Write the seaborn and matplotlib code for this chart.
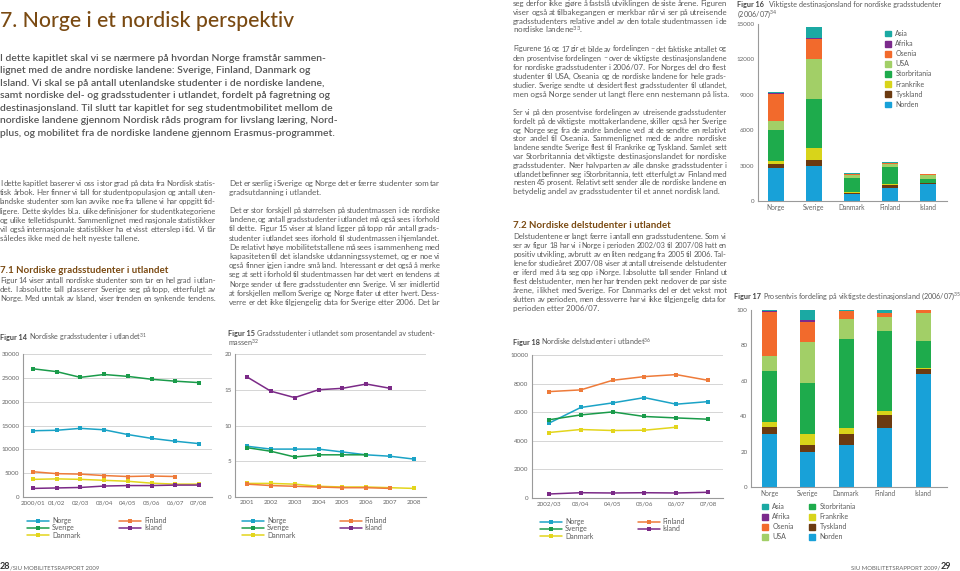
import numpy as np
import pandas as pd
import matplotlib
matplotlib.use("Agg")
import matplotlib.pyplot as plt
from matplotlib.lines import Line2D
from matplotlib.patches import Patch
import seaborn as sns

W, H = 960, 571

# ---------------- data ----------------
countries = ['Norge', 'Sverige', 'Danmark', 'Finland', 'Island']
line_colors = {'Norge': '#1ba3c6', 'Sverige': '#1a9b4a', 'Danmark': '#e3d51c',
               'Finland': '#ee7b3a', 'Island': '#7b2a87'}

# Figur 14 - gradsstudenter i utlandet (antall)
years14 = ['2000/01', '01/02', '02/03', '03/04', '04/05', '05/06', '06/07', '07/08']
f14_norge = [13900, 14000, 14400, 14100, 13100, 12300, 11700, 11200]
f14_sverige = [26900, 26300, 25100, 25700, 25300, 24700, 24300, 24000]
f14_danmark = [3700, 3800, 3700, 3500, 3300, 2900, 2700, 2700]
f14_finland = [5300, 4900, 4800, 4500, 4300, 4400, 4300, np.nan]
f14_island = [1800, 1900, 2000, 2300, 2400, 2400, 2500, 2500]

# Figur 15 - gradsstudenter som prosentandel av studentmassen
years15 = ['2001', '2002', '2003', '2004', '2005', '2006', '2007', '2008']
f15_norge = [7.1, 6.7, 6.7, 6.7, 6.3, 5.9, 5.7, 5.3]
f15_sverige = [6.9, 6.4, 5.6, 5.9, 5.9, 5.9, np.nan, np.nan]
f15_danmark = [1.9, 1.9, 1.8, 1.5, 1.4, 1.4, 1.3, 1.2]
f15_finland = [1.8, 1.6, 1.5, 1.4, 1.3, 1.3, 1.2, np.nan]
f15_island = [16.8, 14.8, 13.9, 15.0, 15.2, 15.8, 15.2, np.nan]

# Figur 18 - delstudenter i utlandet
years18 = ['2002/03', '03/04', '04/05', '05/06', '06/07', '07/08']
f18_norge = [5230, 6330, 6650, 7020, 6560, 6740]
f18_sverige = [5470, 5810, 6020, 5700, 5600, 5510]
f18_danmark = [4580, 4790, 4720, 4740, 4950, np.nan]
f18_finland = [7440, 7560, 8230, 8490, 8630, 8230]
f18_island = [280, 370, 350, 370, 350, 400]

# Figur 16 / 17 - destinasjonsland 2006/07
destinations = ['Asia', 'Afrika', 'Osenia', 'USA', 'Storbritania', 'Frankrike', 'Tyskland', 'Norden']
dest_colors = ['#1ba9a3', '#7b2a8c', '#f26a2c', '#a2cf67', '#1eab4c', '#d8d41a', '#6b3a10', '#18a1d8']

f16_norden = [2760, 2960, 560, 1100, 1450]
f16_tyskland = [370, 510, 150, 230, 60]
f16_frankrike = [250, 1010, 90, 90, 20]
f16_storbritania = [2650, 4180, 1150, 1490, 350]
f16_usa = [790, 3350, 270, 260, 350]
f16_osenia = [2250, 1750, 110, 80, 45]
f16_afrika = [60, 90, 0, 0, 0]
f16_asia = [120, 930, 20, 50, 0]

f17_norden = [30.0, 20.0, 23.9, 33.5, 63.9]
f17_tyskland = [3.9, 3.6, 6.2, 6.9, 2.6]
f17_frankrike = [3.0, 6.6, 3.5, 2.8, 0.8]
f17_storbritania = [28.4, 28.7, 49.9, 45.1, 15.4]
f17_usa = [8.9, 23.0, 11.6, 7.9, 15.4]
f17_osenia = [24.4, 11.6, 4.4, 2.3, 1.9]
f17_afrika = [0.7, 1.0, 0.0, 0.0, 0.0]
f17_asia = [0.7, 5.5, 0.5, 1.5, 0.0]

# ---------------- style ----------------
sns.set_style('white')
plt.rcParams['font.family'] = ['Lato', 'DejaVu Sans']
plt.rcParams['mathtext.fontset'] = 'custom'
plt.rcParams['mathtext.rm'] = 'Lato'
plt.rcParams['mathtext.default'] = 'rm'

BODY = '#5b5b5b'
BROWN = '#7a4a12'
TICK = '#666666'
GRID = '#cfcfcf'
TS = 4.5  # tick label size

fig = plt.figure(figsize=(W / 100, H / 100), dpi=100)
renderer = fig.canvas.get_renderer()


def box(left, top, right, bottom):
    return fig.add_axes([left / W, 1 - bottom / H, (right - left) / W, (bottom - top) / H])


def style_axes(ax, grid=True):
    for s in ['top', 'right']:
        ax.spines[s].set_visible(False)
    for s in ['left', 'bottom']:
        ax.spines[s].set_color('#9a9a9a')
        ax.spines[s].set_linewidth(0.8)
    ax.tick_params(axis='both', labelsize=TS, colors=TICK, length=0, pad=2.5)
    if grid:
        ax.yaxis.grid(True, color=GRID, linewidth=0.6)
        ax.set_axisbelow(True)
    ax.set_xlabel('')
    ax.set_ylabel('')


def line_chart(ax, labels, series, yticks, xlim, leg_anchor, colspace):
    df = pd.DataFrame(series, index=labels)
    df['pos'] = range(len(labels))
    long = df.melt(id_vars='pos', var_name='land', value_name='verdi').dropna()
    sns.lineplot(data=long, x='pos', y='verdi', hue='land', palette=line_colors,
                 marker='s', markersize=2.6, markeredgewidth=0, linewidth=1.1,
                 legend=False, ax=ax)
    style_axes(ax)
    ax.set_xticks(range(len(labels)), labels)
    ax.set_yticks(yticks)
    ax.set_ylim(yticks[0], yticks[-1])
    ax.set_xlim(*xlim)
    handles = [Line2D([], [], color=line_colors[c], marker='s', markersize=2.4,
                      markeredgewidth=0, linewidth=1.1) for c in countries]
    ax.legend(handles, countries, ncol=2, frameon=False, loc='upper left',
              bbox_to_anchor=leg_anchor, fontsize=5, handlelength=3.2, handletextpad=0.4,
              columnspacing=colspace, labelspacing=0.05, borderpad=0, borderaxespad=0,
              labelcolor=BODY)


def stacked_chart(ax, layers, yticks, xlim, width):
    df = pd.DataFrame(np.array(layers[::-1]).T, index=countries, columns=destinations[::-1])
    cum = df.cumsum(axis=1)
    for name, col in zip(destinations, dest_colors):
        sns.barplot(x=countries, y=cum[name].values, color=col, saturation=1,
                    width=width, linewidth=0, ax=ax)
    style_axes(ax, grid=False)
    ax.tick_params(axis='x', labelsize=4.8)
    ax.set_yticks(yticks)
    ax.set_ylim(yticks[0], yticks[-1])
    ax.set_xlim(*xlim)


# ---------------- charts ----------------
ax14 = box(23, 354, 212, 497)
line_chart(ax14, years14,
           {'Norge': f14_norge, 'Sverige': f14_sverige, 'Danmark': f14_danmark,
            'Finland': f14_finland, 'Island': f14_island},
           [0, 5000, 10000, 15000, 20000, 25000, 30000], (-0.42, 7.55),
           (4 / 189, -20 / 143), 5.6)

ax15 = box(235, 354, 426, 497)
line_chart(ax15, years15,
           {'Norge': f15_norge, 'Sverige': f15_sverige, 'Danmark': f15_danmark,
            'Finland': f15_finland, 'Island': f15_island},
           [0, 5, 10, 15, 20], (-0.5, 7.5),
           (7 / 191, -20 / 143), 6.4)

ax18 = box(532, 355, 723, 498)
line_chart(ax18, years18,
           {'Norge': f18_norge, 'Sverige': f18_sverige, 'Danmark': f18_danmark,
            'Finland': f18_finland, 'Island': f18_island},
           [0, 2000, 4000, 6000, 8000, 10000], (-0.53, 5.47),
           (8 / 191, -20 / 143), 6.4)

ax16 = box(758, 24, 947, 201)
stacked_chart(ax16, [f16_asia, f16_afrika, f16_osenia, f16_usa, f16_storbritania,
                     f16_frankrike, f16_tyskland, f16_norden],
              [0, 3000, 6000, 9000, 12000, 15000], (-0.47, 4.5), 0.42)
ax16.legend([Patch(color=c) for c in dest_colors], destinations, frameon=False,
            loc='upper left', bbox_to_anchor=((885 - 758) / 189, (24 - 30) / 177 + 1),
            fontsize=5, handlelength=0.9, handleheight=0.9, handletextpad=0.6,
            labelspacing=0.45, borderpad=0, borderaxespad=0, labelcolor=BODY)

ax17 = box(751, 310, 947, 487)
stacked_chart(ax17, [f17_asia, f17_afrika, f17_osenia, f17_usa, f17_storbritania,
                     f17_frankrike, f17_tyskland, f17_norden],
              [0, 20, 40, 60, 80, 100], (-0.47, 4.62), 0.39)
ax17.legend([Patch(color=c) for c in dest_colors], destinations, ncol=2, frameon=False,
            loc='upper left', bbox_to_anchor=((762 - 751) / 196, -(503 - 487) / 177),
            fontsize=5, handlelength=0.9, handleheight=0.9, handletextpad=0.6,
            labelspacing=0.45, columnspacing=2.2, borderpad=0, borderaxespad=0,
            labelcolor=BODY)


# ---------------- text ----------------
BS = 5.8  # body size


def put(x, y, s, size=BS, color=BODY, weight='normal', ha='left'):
    return fig.text(x / W, 1 - y / H, s, fontsize=size, color=color,
                    fontweight=weight, ha=ha, va='baseline')


def wpx(t):
    return t.get_window_extent(renderer).width


def paragraph(x, y, lines, width, dy=9.0, size=BS, justify_last=False):
    for i, line in enumerate(lines):
        yy = y + i * dy
        if i == len(lines) - 1 and not justify_last:
            put(x, yy, line, size)
            continue
        words = line.split(' ')
        s = size
        while True:
            texts = [put(x, yy, w, s) for w in words]
            widths = [wpx(t) for t in texts]
            gap = (width - sum(widths)) / max(len(words) - 1, 1)
            if gap >= 1.0 or s < 4:
                break
            for t in texts:
                t.remove()
            s *= 0.97
        cx = x
        for t, w in zip(texts, widths):
            t.set_x(cx / W)
            cx += w + gap


def caption(x, y, bold, rest, size=5.2, gap=1.6):
    t = put(x, y, bold, size, '#454545', 'bold')
    put(x + wpx(t) + gap, y, rest, size, BODY)


put(0, 27, '7. Norge i et nordisk perspektiv', 15.2, BROWN, 'medium')

intro = ['I dette kapitlet skal vi se nærmere på hvordan Norge framstår sammen-',
         'lignet med de andre nordiske landene: Sverige, Finland, Danmark og',
         'Island. Vi skal se på antall utenlandske studenter i de nordiske landene,',
         'samt nordiske del- og gradsstudenter i utlandet, fordelt på fagretning og',
         'destinasjonsland. Til slutt tar kapitlet for seg studentmobilitet mellom de',
         'nordiske landene gjennom Nordisk råds program for livslang læring, Nord-',
         'plus, og mobilitet fra de nordiske landene gjennom Erasmus-programmet.']
for i, line in enumerate(intro):
    put(0, 61 + i * 12.45, line, 7.45, '#555555', 'semibold')

paragraph(0, 186, ['I dette kapitlet baserer vi oss i stor grad på data fra Nordisk statis-',
                   'tisk årbok. Her finner vi tall for studentpopulasjon og antall uten-',
                   'landske studenter som kan avvike noe fra tallene vi har oppgitt tid-',
                   'ligere. Dette skyldes bl.a. ulike definisjoner for studentkategoriene',
                   'og ulike telletidspunkt. Sammenlignet med nasjonale statistikker',
                   'vil også internasjonale statistikker ha et visst etterslep i tid. Vi får',
                   'således ikke med de helt nyeste tallene.'], 216, dy=9.2)

put(0, 273, '7.1 Nordiske gradsstudenter i utlandet', 7.0, BROWN, 'bold')
paragraph(0, 283, ['Figur 14 viser antall nordiske studenter som tar en hel grad i utlan-',
                   'det. I absolutte tall plasserer Sverige seg på topp, etterfulgt av',
                   'Norge. Med unntak av Island, viser trenden en synkende tendens.'],
          216, dy=9.2, justify_last=True)

paragraph(229, 186, ['Det er særlig i Sverige og Norge det er færre studenter som tar',
                     'gradsutdanning i utlandet.'], 211, dy=9.2)
paragraph(229, 213, ['Det er stor forskjell på størrelsen på studentmassen i de nordiske',
                     'landene, og antall gradsstudenter i utlandet må også sees i forhold',
                     'til dette. Figur 15 viser at Island ligger på topp når antall grads-',
                     'studenter i utlandet sees i forhold til studentmassen i hjemlandet.',
                     'De relativt høye mobilitetstallene må sees i sammenheng med',
                     'kapasiteten til det islandske utdanningssystemet, og er noe vi',
                     'også finner igjen i andre små land. Interessant er det også å merke',
                     'seg at sett i forhold til studentmassen har det vært en tendens at',
                     'Norge sender ut flere gradsstudenter enn Sverige. Vi ser imidlertid',
                     'at forskjellen mellom Sverige og Norge flater ut etter hvert. Dess-',
                     'verre er det ikke tilgjengelig data for Sverige etter 2006. Det lar'],
          211, dy=9.2, justify_last=True)

paragraph(513, 6, ['seg derfor ikke gjøre å fastslå utviklingen de siste årene. Figuren',
                   'viser også at tilbakegangen er merkbar når vi ser på utreisende',
                   'gradsstudenters relative andel av den totale studentmassen i de',
                   'nordiske landene$^{33}$.'], 214, dy=9.0)
paragraph(513, 51.5, ['Figurene 16 og 17 gir et bilde av fordelingen – det faktiske antallet og',
                      'den prosentvise fordelingen – over de viktigste destinasjonslandene',
                      'for nordiske gradsstudenter i 2006/07. For Norges del dro flest',
                      'studenter til USA, Oseania og de nordiske landene for hele grads-',
                      'studier. Sverige sendte ut desidert flest gradsstudenter til utlandet,',
                      'men også Norge sender ut langt flere enn nestemann på lista.'], 214, dy=9.1)
paragraph(513, 115, ['Ser vi på den prosentvise fordelingen av utreisende gradsstudenter',
                     'fordelt på de viktigste mottakerlandene, skiller også her Sverige',
                     'og Norge seg fra de andre landene ved at de sendte en relativt',
                     'stor andel til Oseania. Sammenlignet med de andre nordiske',
                     'landene sendte Sverige flest til Frankrike og Tyskland. Samlet sett',
                     'var Storbritannia det viktigste destinasjonslandet for nordiske',
                     'gradsstudenter. Nær halvparten av alle danske gradsstudenter i',
                     'utlandet befinner seg i Storbritannia, tett etterfulgt av Finland med',
                     'nesten 45 prosent. Relativt sett sender alle de nordiske landene en',
                     'betydelig andel av gradsstudenter til et annet nordisk land.'], 214, dy=8.8)

put(513, 228, '7.2 Nordiske delstudenter i utlandet', 7.0, BROWN, 'bold')
paragraph(513, 239, ['Delstudentene er langt færre i antall enn gradsstudentene. Som vi',
                     'ser av figur 18 har vi i Norge i perioden 2002/03 til 2007/08 hatt en',
                     'positiv utvikling, avbrutt av en liten nedgang fra 2005 til 2006. Tal-',
                     'lene for studieåret 2007/08 viser at antall utreisende delstudenter',
                     'er i ferd med å ta seg opp i Norge. I absolutte tall sender Finland ut',
                     'flest delstudenter, men her har trenden pekt nedover de par siste',
                     'årene, i likhet med Sverige. For Danmarks del er det vekst mot',
                     'slutten av perioden, men dessverre har vi ikke tilgjengelig data for',
                     'perioden etter 2006/07.'], 214, dy=8.95)

caption(0, 340, 'Figur 14', 'Nordiske gradsstudenter i utlandet$^{31}$')
caption(228, 336, 'Figur 15', 'Gradsstudenter i utlandet som prosentandel av student-')
put(228, 346, 'massen$^{32}$', 5.2)
caption(513, 345, 'Figur 18', 'Nordiske delstudenter i utlandet$^{36}$')
caption(737, 6.5, 'Figur 16', 'Viktigste destinasjonsland for nordiske gradsstudenter', gap=5)
put(737, 16.5, '(2006/07)$^{34}$', 5.2)
caption(734, 299, 'Figur 17', 'Prosentvis fordeling på viktigste destinasjonsland (2006/07)$^{35}$')

t = put(0, 569, '28', 6.5, '#333333', 'bold')
put(wpx(t), 569, '/SIU MOBILITETSRAPPORT 2009', 4.3, '#666666')
t = put(951, 569, '29', 6.5, '#333333', 'bold', ha='right')
put(951 - wpx(t), 569, 'SIU MOBILITETSRAPPORT 2009/', 4.3, '#666666', ha='right')

fig.savefig('out.png', dpi=100, facecolor='white')
